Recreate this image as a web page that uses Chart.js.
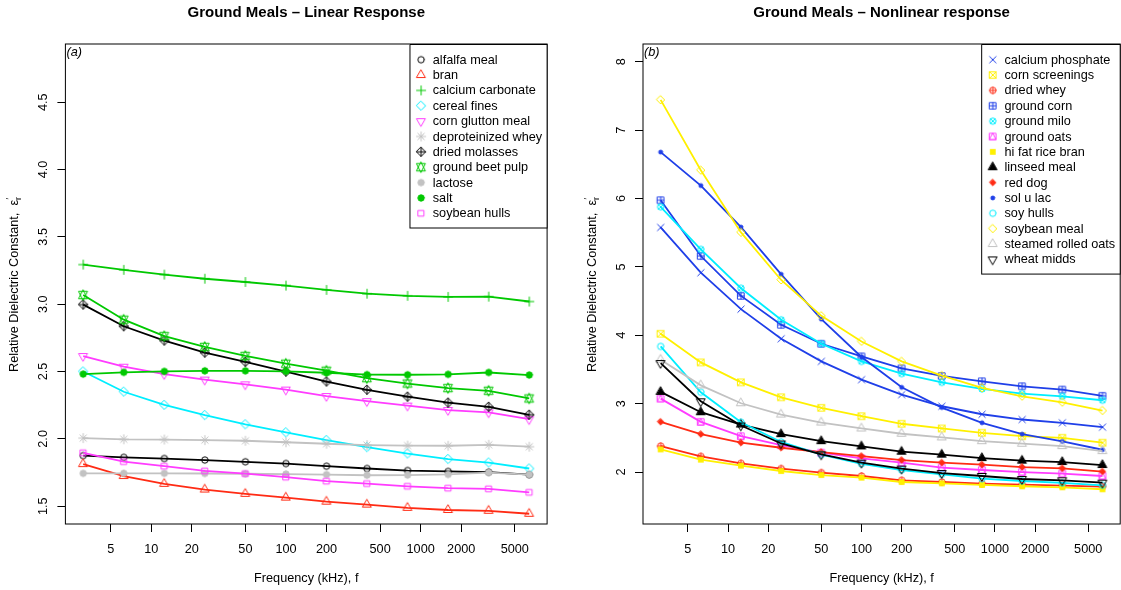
<!DOCTYPE html>
<html>
<head>
<meta charset="utf-8">
<title>Ground Meals – dielectric constant vs frequency</title>
<script src="https://cdn.jsdelivr.net/npm/chart.js@4.4.1/dist/chart.umd.min.js"></script>
<style>
  html, body { margin: 0; padding: 0; background: #ffffff; overflow: hidden; width: 1121px; height: 590px; }
  #wrap { position: relative; width: 1121px; height: 590px; overflow: hidden; }
  .panel { position: absolute; top: 0; height: 590px; }
  #pa { left: 0; width: 560px; }
  #pb { left: 560px; width: 566px; }
  canvas { display: block; }
</style>
</head>
<body>
<div id="wrap">
  <div class="panel" id="pa"><canvas id="ca" width="560" height="590"></canvas></div>
  <div class="panel" id="pb"><canvas id="cb" width="566" height="590"></canvas></div>
</div>
<script>
// ---- measurement frequencies (kHz) and axis ticks ----
const frequencies = [3.125, 6.25, 12.5, 25, 50, 100, 200, 400, 800, 1600, 3200, 6400];
const xTickValues = [5, 10, 20, 50, 100, 200, 500, 1000, 2000, 5000];
const yTicksLinear = [1.5, 2.0, 2.5, 3.0, 3.5, 4.0, 4.5];
const yTicksNonlinear = [2, 3, 4, 5, 6, 7, 8];

// ---- (a) linear response materials ----
const alfalfaMeal        = [1.876, 1.863, 1.854, 1.843, 1.830, 1.817, 1.797, 1.780, 1.765, 1.758, 1.753, 1.734];
const bran               = [1.813, 1.724, 1.666, 1.624, 1.592, 1.564, 1.534, 1.512, 1.488, 1.472, 1.466, 1.444];
const calciumCarbonate   = [3.294, 3.255, 3.220, 3.189, 3.165, 3.138, 3.106, 3.078, 3.062, 3.054, 3.056, 3.020];
const cerealFines        = [2.500, 2.350, 2.252, 2.176, 2.108, 2.048, 1.991, 1.938, 1.891, 1.850, 1.824, 1.780];
const cornGluttonMeal    = [2.615, 2.536, 2.481, 2.440, 2.405, 2.366, 2.318, 2.280, 2.247, 2.214, 2.197, 2.146];
const deproteinizedWhey  = [2.006, 1.997, 1.995, 1.991, 1.986, 1.975, 1.964, 1.954, 1.950, 1.949, 1.956, 1.942];
const driedMolasses      = [2.997, 2.836, 2.730, 2.640, 2.571, 2.499, 2.426, 2.364, 2.313, 2.269, 2.238, 2.179];
const groundBeetPulp     = [3.068, 2.885, 2.763, 2.683, 2.616, 2.558, 2.506, 2.451, 2.411, 2.377, 2.357, 2.300];
const lactose            = [1.744, 1.744, 1.744, 1.743, 1.741, 1.739, 1.735, 1.730, 1.731, 1.736, 1.750, 1.735];
const salt               = [2.481, 2.494, 2.501, 2.505, 2.505, 2.501, 2.491, 2.477, 2.476, 2.479, 2.493, 2.474];
const soybeanHulls       = [1.897, 1.831, 1.797, 1.762, 1.742, 1.716, 1.686, 1.668, 1.648, 1.634, 1.629, 1.603];

// ---- (b) nonlinear response materials ----
const calciumPhosphate   = [5.577, 4.915, 4.382, 3.949, 3.618, 3.351, 3.133, 2.962, 2.845, 2.768, 2.720, 2.656];
const cornScreenings     = [4.022, 3.603, 3.312, 3.093, 2.939, 2.816, 2.706, 2.637, 2.574, 2.525, 2.501, 2.429];
const driedWhey          = [2.379, 2.229, 2.127, 2.050, 1.991, 1.942, 1.879, 1.854, 1.830, 1.816, 1.801, 1.787];
const groundCorn         = [5.975, 5.159, 4.576, 4.153, 3.876, 3.691, 3.516, 3.405, 3.327, 3.254, 3.206, 3.114];
const groundMilo         = [5.878, 5.256, 4.688, 4.226, 3.876, 3.618, 3.439, 3.312, 3.216, 3.147, 3.108, 3.050];
const groundOats         = [3.074, 2.734, 2.525, 2.394, 2.283, 2.200, 2.137, 2.064, 2.030, 2.000, 1.977, 1.942];
const hiFatRiceBran      = [2.331, 2.181, 2.093, 2.015, 1.956, 1.918, 1.854, 1.835, 1.811, 1.792, 1.777, 1.748];
const linseedMeal        = [3.172, 2.875, 2.695, 2.554, 2.452, 2.375, 2.297, 2.254, 2.204, 2.166, 2.146, 2.102];
const redDog             = [2.734, 2.554, 2.429, 2.355, 2.292, 2.233, 2.175, 2.137, 2.108, 2.073, 2.054, 2.006];
const solULac            = [6.679, 6.189, 5.582, 4.892, 4.236, 3.682, 3.239, 2.943, 2.720, 2.554, 2.447, 2.326];
const soyHulls           = [3.837, 3.166, 2.729, 2.440, 2.255, 2.120, 2.029, 1.966, 1.903, 1.869, 1.840, 1.806];
const soybeanMeal        = [7.443, 6.413, 5.504, 4.809, 4.284, 3.910, 3.618, 3.410, 3.230, 3.108, 3.020, 2.899];
const steamedRolledOats  = [3.643, 3.268, 3.006, 2.841, 2.724, 2.637, 2.560, 2.506, 2.452, 2.414, 2.379, 2.306];
const wheatMidds         = [3.594, 3.035, 2.681, 2.418, 2.258, 2.137, 2.050, 1.985, 1.942, 1.898, 1.879, 1.845];

// ---- styling ----
const FONT_FAMILY = '"Liberation Sans", Arial, Helvetica, sans-serif';
const TXT = 12.7;
const PAL = {
  black: '#000000', red: '#ff2b14', green: '#00c800', blue: '#1f3fe8',
  cyan: '#00eeff', magenta: '#ff3cff', yellow: '#fff000', gray: '#c2c2c2'
};
const SYM_R = 3.2;   // base symbol radius in px

// Plotting symbols in the style of R's pch codes, rendered once to small canvases
function makeSymbol(pch, color) {
  const S = 24, c = S / 2, R = SYM_R;
  const cv = document.createElement('canvas');
  cv.width = S; cv.height = S;
  const g = cv.getContext('2d');
  g.strokeStyle = color; g.fillStyle = color;
  g.lineWidth = 1.0; g.lineJoin = 'round'; g.lineCap = 'round';
  const line = (x1, y1, x2, y2) => { g.beginPath(); g.moveTo(c + x1, c + y1); g.lineTo(c + x2, c + y2); g.stroke(); };
  const circle = (r, fill) => { g.beginPath(); g.arc(c, c, r, 0, 2 * Math.PI); if (fill) g.fill(); g.stroke(); };
  const poly = (pts, fill) => {
    g.beginPath();
    pts.forEach(([x, y], i) => i ? g.lineTo(c + x, c + y) : g.moveTo(c + x, c + y));
    g.closePath(); if (fill) g.fill(); g.stroke();
  };
  const rect = (h, fill) => { if (fill) g.fillRect(c - h, c - h, 2 * h, 2 * h); else g.strokeRect(c - h, c - h, 2 * h, 2 * h); };
  const TRC0 = Math.sqrt(4 * Math.PI / (3 * Math.sqrt(3)));
  const TRC1 = TRC0 * Math.sqrt(3) / 2;
  const TRC2 = TRC0 / 2;
  const s2 = Math.SQRT2;
  const triUp = [[0, -TRC0 * R], [TRC1 * R, TRC2 * R], [-TRC1 * R, TRC2 * R]];
  const triDn = [[0, TRC0 * R], [TRC1 * R, -TRC2 * R], [-TRC1 * R, -TRC2 * R]];
  const diamond = h => [[0, -h], [h, 0], [0, h], [-h, 0]];
  switch (pch) {
    case 0: rect(R * 0.886); break;
    case 1: circle(R); break;
    case 2: poly(triUp); break;
    case 3: line(-s2 * R, 0, s2 * R, 0); line(0, -s2 * R, 0, s2 * R); break;
    case 4: line(-R, -R, R, R); line(-R, R, R, -R); break;
    case 5: poly(diamond(s2 * R)); break;
    case 6: poly(triDn); break;
    case 7: rect(R); line(-R, -R, R, R); line(-R, R, R, -R); break;
    case 8: line(-R, -R, R, R); line(-R, R, R, -R); line(-s2 * R, 0, s2 * R, 0); line(0, -s2 * R, 0, s2 * R); break;
    case 9: poly(diamond(s2 * R)); line(-s2 * R, 0, s2 * R, 0); line(0, -s2 * R, 0, s2 * R); break;
    case 10: circle(R); line(-R, 0, R, 0); line(0, -R, 0, R); break;
    case 11: {
      const r = TRC0 * R, yc = 0.5 * (TRC2 * R + r), xc = TRC1 * R;
      poly([[0, -r], [xc, yc], [-xc, yc]]);
      poly([[0, r], [xc, -yc], [-xc, -yc]]);
      break;
    }
    case 12: rect(R); line(-R, 0, R, 0); line(0, -R, 0, R); break;
    case 13: { circle(R); const d = R * 0.72; line(-d, -d, d, d); line(-d, d, d, -d); break; }
    case 14: rect(R); poly([[0, -R], [R, R], [-R, R]]); break;
    case 15: rect(R * 0.9, true); break;
    case 16: circle(R, true); break;
    case 17: poly(triUp, true); break;
    case 18: poly(diamond(R), true); break;
    case 19: circle(R, true); break;
    case 20: circle(R * 0.62, true); break;
    case 21: circle(R); break;
    case 22: rect(R * 0.886); break;
    case 23: poly(diamond(R * 1.2533)); break;
    case 24: poly(triUp); break;
    case 25: poly(triDn); break;
  }
  return cv;
}

// Series tables: name, values, R plotting symbol code, palette colour
const linearSeries = [
  { name: 'alfalfa meal',        values: alfalfaMeal,       pch: 1,  color: PAL.black },
  { name: 'bran',                values: bran,              pch: 2,  color: PAL.red },
  { name: 'calcium carbonate',   values: calciumCarbonate,  pch: 3,  color: PAL.green },
  { name: 'cereal fines',        values: cerealFines,       pch: 5,  color: PAL.cyan },
  { name: 'corn glutton meal',   values: cornGluttonMeal,   pch: 6,  color: PAL.magenta },
  { name: 'deproteinized whey',  values: deproteinizedWhey, pch: 8,  color: PAL.gray },
  { name: 'dried molasses',      values: driedMolasses,     pch: 9,  color: PAL.black },
  { name: 'ground beet pulp',    values: groundBeetPulp,    pch: 11, color: PAL.green },
  { name: 'lactose',             values: lactose,           pch: 16, color: PAL.gray },
  { name: 'salt',                values: salt,              pch: 19, color: PAL.green },
  { name: 'soybean hulls',       values: soybeanHulls,      pch: 22, color: PAL.magenta }
];
const nonlinearSeries = [
  { name: 'calcium phosphate',   values: calciumPhosphate,  pch: 4,  color: PAL.blue },
  { name: 'corn screenings',     values: cornScreenings,    pch: 7,  color: PAL.yellow },
  { name: 'dried whey',          values: driedWhey,         pch: 10, color: PAL.red },
  { name: 'ground corn',         values: groundCorn,        pch: 12, color: PAL.blue },
  { name: 'ground milo',         values: groundMilo,        pch: 13, color: PAL.cyan },
  { name: 'ground oats',         values: groundOats,        pch: 14, color: PAL.magenta },
  { name: 'hi fat rice bran',    values: hiFatRiceBran,     pch: 15, color: PAL.yellow },
  { name: 'linseed meal',        values: linseedMeal,       pch: 17, color: PAL.black },
  { name: 'red dog',             values: redDog,            pch: 18, color: PAL.red },
  { name: 'sol u lac',           values: solULac,           pch: 20, color: PAL.blue },
  { name: 'soy hulls',           values: soyHulls,          pch: 21, color: PAL.cyan },
  { name: 'soybean meal',        values: soybeanMeal,       pch: 23, color: PAL.yellow },
  { name: 'steamed rolled oats', values: steamedRolledOats, pch: 24, color: PAL.gray },
  { name: 'wheat midds',         values: wheatMidds,        pch: 25, color: PAL.black }
];
[...linearSeries, ...nonlinearSeries].forEach(s => { s.symbol = makeSymbol(s.pch, s.color); });

function buildDatasets(series) {
  const n = series.length;
  return series.map((s, i) => ({
    label: s.name,
    data: frequencies.map((f, k) => ({ x: f, y: s.values[k] })),
    borderColor: s.color,
    backgroundColor: s.color,
    borderWidth: 1.8,
    tension: 0,
    fill: false,
    pointStyle: s.symbol,
    pointRadius: 4,
    pointHoverRadius: 4,
    order: n - i          // later materials are painted over earlier ones
  }));
}

// Frame, rotated y tick labels, y-axis title, panel tag and boxed legend
function makeDecor(cfg) {
  return {
    id: 'decor',
    afterDatasetsDraw(chart) {
      const { ctx, chartArea: a } = chart;
      const ys = chart.scales.y;
      const font = `${TXT}px ${FONT_FAMILY}`;
      ctx.save();

      // plot frame
      ctx.strokeStyle = '#000'; ctx.lineWidth = 1;
      ctx.strokeRect(a.left, a.top, a.right - a.left, a.bottom - a.top);

      // y tick labels, parallel to the axis
      ctx.fillStyle = '#000'; ctx.font = font;
      ctx.textAlign = 'center'; ctx.textBaseline = 'middle';
      ys.ticks.forEach(t => {
        const y = ys.getPixelForValue(t.value);
        ctx.save();
        ctx.translate(a.left - 22, y);
        ctx.rotate(-Math.PI / 2);
        ctx.fillText(t.value.toFixed(cfg.yDecimals), 0, 0);
        ctx.restore();
      });

      // y-axis title with epsilon_r'
      ctx.save();
      ctx.translate(a.left - 52, (a.top + a.bottom) / 2);
      ctx.rotate(-Math.PI / 2);
      ctx.textAlign = 'left'; ctx.textBaseline = 'alphabetic';
      const main = 'Relative Dielectric Constant,  ';
      ctx.font = font;
      const w1 = ctx.measureText(main).width;
      const we = ctx.measureText('\u03b5').width;
      ctx.font = `9px ${FONT_FAMILY}`;
      const wr = ctx.measureText('r').width;
      const total = w1 + we + wr + 1;
      let x = -total / 2;
      const base = 4.5;
      ctx.font = font;
      ctx.fillText(main, x, base); x += w1;
      ctx.fillText('\u03b5', x, base); x += we;
      ctx.font = `9px ${FONT_FAMILY}`;
      ctx.fillText('r', x, base + 3);
      ctx.fillText('\u2032', x + 0.5, base - 6);
      ctx.restore();

      // panel tag
      ctx.font = `italic ${TXT}px ${FONT_FAMILY}`;
      ctx.textAlign = 'left'; ctx.textBaseline = 'top';
      ctx.fillText(cfg.tag, a.left + 1, a.top + 2.5);

      // legend box in the top-right corner
      ctx.font = font;
      const series = cfg.series;
      const maxW = Math.max(...series.map(s => ctx.measureText(s.name).width));
      const step = 15.36;
      const lx = a.right - (23.3 + maxW + 5);
      const firstY = a.top + 15.7;
      const bottom = firstY + (series.length - 1) * step + 14.7;
      ctx.fillStyle = '#fff';
      ctx.fillRect(lx, a.top, a.right - lx, bottom - a.top);
      ctx.strokeStyle = '#000'; ctx.lineWidth = 1;
      ctx.strokeRect(lx + 0.5, a.top + 0.5, a.right - lx - 0.5, bottom - a.top - 0.5);
      ctx.textAlign = 'left'; ctx.textBaseline = 'middle';
      series.forEach((s, i) => {
        const y = firstY + i * step;
        ctx.drawImage(s.symbol, lx + 11.6 - s.symbol.width / 2, y - s.symbol.height / 2);
        ctx.fillStyle = '#000';
        ctx.fillText(s.name, lx + 23.3, y + 0.5);
      });
      ctx.restore();
    }
  };
}

function makeChart(canvasId, series, o) {
  return new Chart(document.getElementById(canvasId), {
    type: 'line',
    data: { datasets: buildDatasets(series) },
    options: {
      responsive: false,
      animation: false,
      devicePixelRatio: 1,
      events: [],
      layout: { padding: { left: 0, right: o.padRight, top: 0, bottom: 0 } },
      plugins: {
        legend: { display: false },
        tooltip: { enabled: false },
        title: {
          display: true, text: o.title, fullSize: false, align: 'center', color: '#000',
          font: { family: FONT_FAMILY, size: 15, weight: 'bold', lineHeight: 1.2 },
          padding: { top: 4, bottom: 22 }
        }
      },
      scales: {
        x: {
          type: 'logarithmic', position: 'bottom', bounds: 'data',
          min: Math.pow(10, 0.3625), max: Math.pow(10, 3.9387),
          afterBuildTicks: s => { s.ticks = xTickValues.map(v => ({ value: v })); },
          afterFit: s => { s.height = 66; },
          grid: { display: true, drawOnChartArea: false, drawTicks: true, tickLength: 8, color: '#000', lineWidth: 1 },
          border: { display: false },
          ticks: {
            autoSkip: false, maxRotation: 0, minRotation: 0, padding: 9.4, color: '#000',
            font: { family: FONT_FAMILY, size: TXT },
            callback: v => String(v)
          },
          title: {
            display: true, text: 'Frequency (kHz), f', color: '#000',
            font: { family: FONT_FAMILY, size: TXT }, padding: { top: 0, bottom: 3.4 }
          }
        },
        y: {
          type: 'linear', position: 'left', bounds: 'data',
          min: o.ymin, max: o.ymax,
          afterBuildTicks: s => { s.ticks = o.yTicks.map(v => ({ value: v })); },
          afterFit: s => { s.width = o.axisWidth; },
          grid: { display: true, drawOnChartArea: false, drawTicks: true, tickLength: 8, color: '#000', lineWidth: 1 },
          border: { display: false },
          ticks: { display: false }
        }
      }
    },
    plugins: [makeDecor({ tag: o.tag, yDecimals: o.yDecimals, series })]
  });
}

makeChart('ca', linearSeries, {
  title: 'Ground Meals \u2013 Linear Response', tag: '(a)',
  ymin: 1.368, ymax: 4.932, yTicks: yTicksLinear, yDecimals: 1,
  axisWidth: 65.4, padRight: 12.9
});
makeChart('cb', nonlinearSeries, {
  title: 'Ground Meals \u2013 Nonlinear response', tag: '(b)',
  ymin: 1.24, ymax: 8.26, yTicks: yTicksNonlinear, yDecimals: 0,
  axisWidth: 83, padRight: 3.5
});
</script>
</body>
</html>
